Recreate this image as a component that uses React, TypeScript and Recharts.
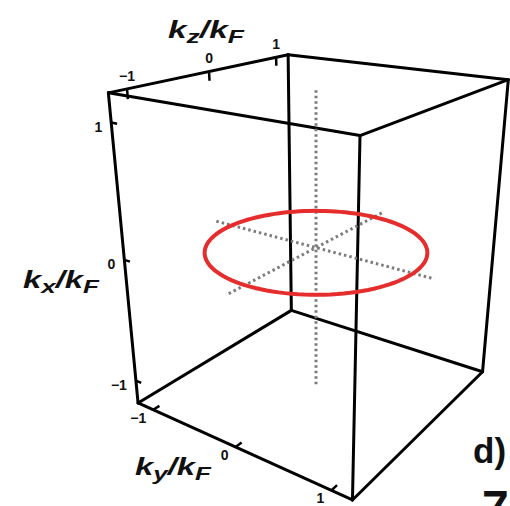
import { ComposedChart, Line, Scatter, XAxis, YAxis } from "recharts"

const WIDTH = 510
const HEIGHT = 506

// box limits and ticks, in units of kF
const LIMIT = 1.2
const TICKS = [-1, 0, 1]
const TICK_TEXT = ["\u22121", "0", "1"]

// Fermi circle lying in the ky-kz plane
const FERMI_RADIUS = 1
const FERMI_KX = 0
const CIRCLE_STEPS = 120

// axis titles: main letter, subscript
const TITLES = [
  { axis: "kz", sub: "z" },
  { axis: "kx", sub: "x" },
  { axis: "ky", sub: "y" },
]

const PANEL_LETTER = "d)"

// perspective camera used to flatten (ky, kz, kx) onto the page
const VIEW = {
  focalX: 828,
  focalY: 800,
  cx: 316,
  cy: 230,
  pitch: (21.5 * Math.PI) / 180,
  yaw: (35.3 * Math.PI) / 180,
  distance: 4.55,
  eye: 1.909,
  horiz: 0.79 / LIMIT,
  vert: 1 / LIMIT,
}

type P3 = [number, number, number] // [ky, kz, kx]

function project([ky, kz, kx]: P3) {
  const sa = Math.sin(VIEW.yaw)
  const ca = Math.cos(VIEW.yaw)
  const sp = Math.sin(VIEW.pitch)
  const cp = Math.cos(VIEW.pitch)
  const wy = ky * VIEW.horiz
  const wz = kz * VIEW.horiz
  const dz = kx * VIEW.vert - VIEW.eye
  const u = VIEW.distance - sa * wy + ca * wz
  const lat = ca * wy + sa * wz
  const zc = u * cp - dz * sp
  const up = u * sp + dz * cp
  return { x: VIEW.cx + (VIEW.focalX * lat) / zc, y: VIEW.cy - (VIEW.focalY * up) / zc }
}

const seg = (a: P3, b: P3) => [project(a), project(b)]

const L = LIMIT
const edges: { x: number; y: number }[][] = []
for (const a of [-L, L]) {
  for (const b of [-L, L]) {
    edges.push(seg([-L, a, b], [L, a, b]))
    edges.push(seg([a, -L, b], [a, L, b]))
    edges.push(seg([a, b, -L], [a, b, L]))
  }
}

const axesThroughOrigin = [
  seg([-L, 0, 0], [L, 0, 0]),
  seg([0, -L, 0], [0, L, 0]),
  seg([0, 0, -L * 0.98], [0, 0, L * 0.98]),
]

const fermiCircle = Array.from({ length: CIRCLE_STEPS + 1 }, (_, i) => {
  const t = (2 * Math.PI * i) / CIRCLE_STEPS
  return project([FERMI_RADIUS * Math.cos(t), FERMI_RADIUS * Math.sin(t), FERMI_KX])
})

const TICK_LEN = 0.07
const tickMarks = TICKS.flatMap((t) => [
  seg([-L, t, L], [-L, t, L - TICK_LEN]), // kz along the top back edge
  seg([-L, -L, t], [-L + TICK_LEN, -L, t]), // kx along the left edge
  seg([t, -L, -L], [t, -L + TICK_LEN * 1.15, -L]), // ky along the bottom edge
])

type TextItem = { x: number; y: number; text: string; kind: string; sub?: string; anchor?: string }

const shift = (p: { x: number; y: number }, dx: number, dy: number) => ({ x: p.x + dx, y: p.y + dy })

const textItems: TextItem[] = [
  ...TICKS.map((t, i) => ({ ...shift(project([-L, t, L]), 0, -13), text: TICK_TEXT[i], kind: "tick", anchor: "middle" })),
  ...TICKS.map((t, i) => ({ ...shift(project([-L, -L, t]), -9, 4), text: TICK_TEXT[i], kind: "tick", anchor: "end" })),
  ...TICKS.map((t, i) => ({ ...shift(project([t, -L, -L]), -7, 8), text: TICK_TEXT[i], kind: "tick", anchor: "end" })),
  { x: 168, y: 38, text: "k", sub: TITLES[0].sub, kind: "title" },
  { x: 23, y: 288, text: "k", sub: TITLES[1].sub, kind: "title" },
  { x: 135, y: 475, text: "k", sub: TITLES[2].sub, kind: "title" },
  { x: 473, y: 463, text: PANEL_LETTER, kind: "panel" },
  { x: 482, y: 524, text: "7", kind: "next" },
]

const FONT = "'Liberation Sans', Arial, sans-serif"

function TextMark(props: any) {
  const { cx, cy, payload } = props
  const d: TextItem = payload
  if (d.kind === "tick") {
    return (
      <text x={cx} y={cy} textAnchor={d.anchor} dominantBaseline="central" fontFamily={FONT} fontWeight={700} fontSize={14} fill="#111">
        {d.text}
      </text>
    )
  }
  if (d.kind === "title") {
    return (
      <text x={cx} y={cy} fontFamily={FONT} fontWeight={700} fontStyle="italic" fontSize={24} fill="#111" textLength={76} lengthAdjust="spacingAndGlyphs">
        {d.text}
        <tspan fontSize={19} dy={5}>{d.sub}</tspan>
        <tspan fontSize={24} dy={-5}>/k</tspan>
        <tspan fontSize={19} dy={5}>F</tspan>
      </text>
    )
  }
  return (
    <text x={cx} y={cy} fontFamily={FONT} fontWeight={700} fontSize={d.kind === "panel" ? 35 : 48} fill="#111">
      {d.text}
    </text>
  )
}

export default function App() {
  return (
    <div style={{ position: "absolute", left: 0, top: 0, background: "#fff" }}>
      <ComposedChart width={WIDTH} height={HEIGHT} margin={{ top: 0, right: 0, bottom: 0, left: 0 }}>
        <XAxis type="number" dataKey="x" domain={[0, WIDTH]} allowDataOverflow hide />
        <YAxis type="number" dataKey="y" domain={[0, HEIGHT]} reversed allowDataOverflow hide />
        {edges.map((d, i) => (
          <Line key={`edge-${i}`} data={d} dataKey="y" type="linear" stroke="#000" strokeWidth={3} strokeLinecap="round" dot={false} activeDot={false} isAnimationActive={false} />
        ))}
        {tickMarks.map((d, i) => (
          <Line key={`tick-${i}`} data={d} dataKey="y" type="linear" stroke="#000" strokeWidth={2.5} dot={false} activeDot={false} isAnimationActive={false} />
        ))}
        {axesThroughOrigin.map((d, i) => (
          <Line key={`axis-${i}`} data={d} dataKey="y" type="linear" stroke="#7c7c7c" strokeWidth={3} strokeDasharray="2.5 3" dot={false} activeDot={false} isAnimationActive={false} />
        ))}
        <Line data={fermiCircle} dataKey="y" type="linear" stroke="#e52d2d" strokeWidth={4} dot={false} activeDot={false} isAnimationActive={false} />
        <Scatter data={textItems} dataKey="y" shape={TextMark} isAnimationActive={false} />
      </ComposedChart>
    </div>
  )
}
